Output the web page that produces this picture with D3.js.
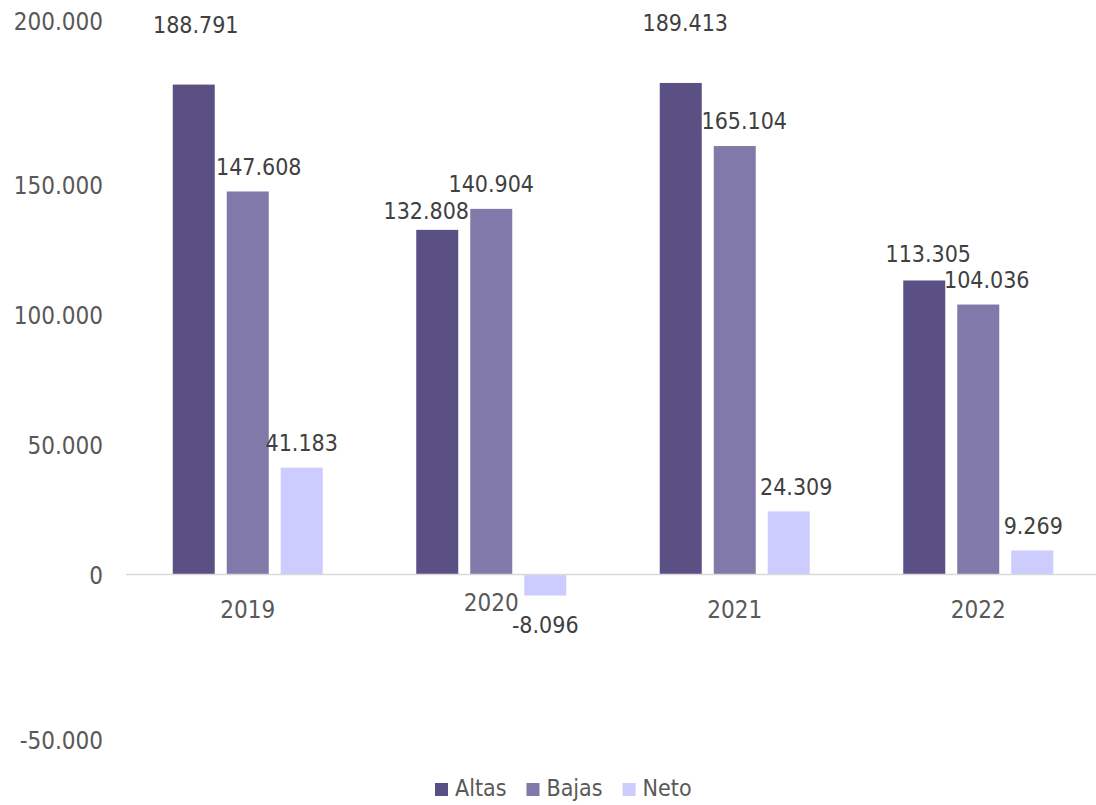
<!DOCTYPE html>
<html>
<head>
<meta charset="utf-8">
<script src="https://cdn.jsdelivr.net/npm/d3@7"></script>
<style>
  html, body { margin: 0; padding: 0; background: #fff; }
  svg { display: block; }
  text { font-family: "DejaVu Sans Condensed", "DejaVu Sans", sans-serif; font-stretch: condensed; }
</style>
</head>
<body>
<svg id="chart" width="1096" height="805"></svg>
<script>
// Altas, bajas y neto por año
const years = ["2019", "2020", "2021", "2022"];
const series = ["Altas", "Bajas", "Neto"];
const altas = [188791, 132808, 189413, 113305];
const bajas = [147608, 140904, 165104, 104036];
const neto  = [41183, -8096, 24309, 9269];
const yTicks = [-50000, 0, 50000, 100000, 150000, 200000];
const colors = ["#5B5083", "#8279AB", "#CCCCFF"];

const valuesBySeries = { Altas: altas, Bajas: bajas, Neto: neto };

// hand-placed label nudges (dx, dy) in px, keyed "serie|año"
const labelNudge = {
  "Altas|2019": [2, -35],
  "Bajas|2019": [11, 0],
  "Altas|2020": [-11, 6],
  "Altas|2021": [4.5, -35],
  "Bajas|2021": [9.5, 0],
  "Neto|2021":  [7.5, 0],
  "Altas|2022": [4, -2],
  "Bajas|2022": [8.5, 0],
  "Neto|2022":  [1, 0]
};

const locale = d3.formatLocale({ decimal: ",", thousands: ".", grouping: [3], currency: ["", " €"], minus: "-" });
const fmt = locale.format(",d");

const svg = d3.select("#chart");

const y = d3.scaleLinear().domain([0, 200000]).range([574.5, 55.5]);
const x0 = d3.scaleBand().domain(years).range([126, 1100]).padding(0);
const groupW = 150;
const x1 = d3.scaleBand().domain(series)
  .range([(x0.bandwidth() - groupW) / 2, (x0.bandwidth() + groupW) / 2])
  .paddingInner(12 / 54).paddingOuter(0);

const rows = [];
years.forEach((yr, i) => {
  series.forEach(s => rows.push({ year: yr, serie: s, value: valuesBySeries[s][i] }));
});
const color = d3.scaleOrdinal().domain(series).range(colors);

// bars
svg.append("g").selectAll("rect").data(rows).join("rect")
  .attr("x", d => x0(d.year) + x1(d.serie))
  .attr("width", x1.bandwidth())
  .attr("y", d => Math.min(y(d.value), y(0)))
  .attr("height", d => Math.abs(y(d.value) - y(0)))
  .attr("fill", d => color(d.serie));

// zero line
svg.append("line")
  .attr("x1", 126).attr("x2", 1096)
  .attr("y1", y(0)).attr("y2", y(0))
  .attr("stroke", "#d9d9d9").attr("stroke-width", 1.5);

// value axis
const yAxis = svg.append("g")
  .attr("transform", "translate(103,0)")
  .call(d3.axisLeft(y).tickValues(yTicks).tickSize(0).tickPadding(0).tickFormat(fmt));
yAxis.select(".domain").remove();
yAxis.selectAll("text")
  .attr("fill", "#595959").attr("font-size", 24).attr("dy", "0.36em")
  .attr("y", d => d === 200000 ? -35 : d === -50000 ? 36 : 0)
  .style("font-family", null);

// category labels
svg.append("g").selectAll("text").data(years).join("text")
  .attr("x", d => x0(d) + x0.bandwidth() / 2)
  .attr("y", d => d === "2020" ? 602 : 609)
  .attr("dy", "0.36em")
  .attr("text-anchor", "middle")
  .attr("font-size", 24)
  .attr("fill", "#595959")
  .text(d => d);

// data labels
svg.append("g").selectAll("text").data(rows).join("text")
  .attr("x", d => {
    const n = labelNudge[d.serie + "|" + d.year] || [0, 0];
    return x0(d.year) + x1(d.serie) + x1.bandwidth() / 2 + n[0];
  })
  .attr("y", d => {
    const n = labelNudge[d.serie + "|" + d.year] || [0, 0];
    const base = d.value >= 0 ? y(d.value) - 25 : y(d.value) + 29;
    return base + n[1];
  })
  .attr("dy", "0.36em")
  .attr("text-anchor", "middle")
  .attr("font-size", 23)
  .attr("fill", "#404040")
  .text(d => fmt(d.value));

// legend
const legend = svg.append("g").attr("transform", "translate(435,788)");
let lx = 0;
series.forEach(s => {
  const g = legend.append("g").attr("transform", `translate(${lx},0)`);
  g.append("rect").attr("x", 0).attr("y", -5).attr("width", 13).attr("height", 13).attr("fill", color(s));
  const t = g.append("text").attr("x", 20).attr("dy", "0.36em")
    .attr("font-size", 23).attr("fill", "#595959").text(s);
  lx += 20 + t.node().getComputedTextLength() + 20;
});
</script>
</body>
</html>
